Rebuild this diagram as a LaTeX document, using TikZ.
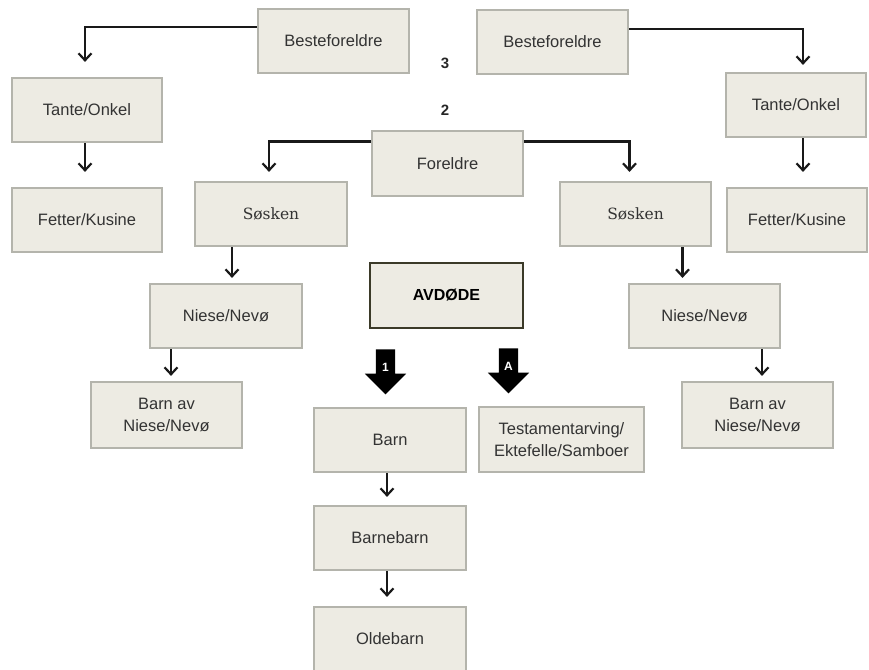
\documentclass[tikz,border=0pt]{standalone}
\usepackage{fontspec}
\setmainfont{Liberation Sans}
\newfontfamily\slabfont{DejaVu Serif}
\usetikzlibrary{arrows.meta,shapes.arrows,calc}
\definecolor{boxfill}{HTML}{EDEBE3}
\definecolor{boxline}{HTML}{B4B4AC}
\definecolor{mainline}{HTML}{3B3A28}
\definecolor{txt}{HTML}{333333}
\tikzset{
  famboxstyle/.style={draw=boxline, fill=boxfill, line width=2.2pt, minimum width=151pt, minimum height=64pt, text=txt, align=center, font=\fontsize{16.5}{22}\selectfont, inner sep=2pt},
  mainbox/.style={famboxstyle, draw=mainline, line width=2.8pt, text=black, font=\fontsize{16}{20}\selectfont\bfseries},
  conn/.style={draw=black!90, line width=2.2pt, -{Straight Barb[length=7pt,width=13pt,line width=2.2pt]}},
  bigarrow/.style={single arrow, fill=black, draw=none, rotate=-90, minimum height=45pt, inner sep=9.5pt, single arrow head extend=11pt},
  arrowlbl/.style={text=white, font=\fontsize{12}{12}\selectfont\bfseries, inner sep=0pt},
  numlbl/.style={text=black!85, font=\fontsize{15}{16}\selectfont\bfseries, inner sep=0pt}
}
\begin{document}
\begin{tikzpicture}[x=1pt,y=-1pt]
\useasboundingbox (0,0) rectangle (869,669);
\node[famboxstyle] (bfl) at (333.5,41) {Besteforeldre};
\node[famboxstyle] (bfr) at (552.5,42) {Besteforeldre};
\node[famboxstyle, minimum width=150pt] (tol) at (87,110) {Tante/Onkel};
\node[famboxstyle, minimum width=140pt] (tor) at (796,105) {Tante/Onkel};
\node[famboxstyle, minimum width=150pt] (fkl) at (87,220) {Fetter/Kusine};
\node[famboxstyle, minimum width=140pt] (fkr) at (797,220) {Fetter/Kusine};
\node[famboxstyle, minimum height=65pt] (for) at (447.5,163.5) {Foreldre};
\node[famboxstyle, minimum width=152pt, font=\fontsize{15.5}{18}\slabfont] (sol) at (271,214) {Søsken};
\node[famboxstyle, font=\fontsize{15.5}{18}\slabfont] (sor) at (635.5,214) {Søsken};
\node[famboxstyle, minimum width=152pt] (nnl) at (226,316) {Niese/Nevø};
\node[famboxstyle] (nnr) at (704.5,316) {Niese/Nevø};
\node[famboxstyle, minimum height=66pt] (bal) at (166.5,415) {Barn av\\Niese/Nevø};
\node[famboxstyle, minimum height=66pt] (bar) at (757.5,415) {Barn av\\Niese/Nevø};
\node[mainbox, minimum width=153pt, minimum height=65pt] (avd) at (446.5,295.5) {AVDØDE};
\node[famboxstyle, minimum width=152pt] (barn) at (390,440) {Barn};
\node[famboxstyle, minimum width=165pt, minimum height=65pt] (test) at (561.5,439.5) {Testamentarving/\\Ektefelle/Samboer};
\node[famboxstyle, minimum width=152pt] (bb) at (390,538) {Barnebarn};
\node[famboxstyle, minimum width=152pt] (ob) at (390,639) {Oldebarn};
\node[numlbl] (n3) at (445,63) {3};
\node[numlbl] (n2) at (445,110) {2};
\node[bigarrow] (ar1) at (385.5,367) {};
\node[arrowlbl] (l1) at (385.5,367) {1};
\node[bigarrow] (ara) at (508.5,366) {};
\node[arrowlbl] (la) at (508.5,366) {A};
\draw[conn] ([yshift=14pt]bfl.west) -| ([xshift=-2pt,yshift=15pt]tol.north);
\draw[conn] ([yshift=13pt]bfr.east) -| ([xshift=7pt,yshift=7pt]tor.north);
\draw[conn] ([xshift=-2pt]tol.south) -- ([xshift=-2pt,yshift=15pt]fkl.north);
\draw[conn] ([xshift=7pt]tor.south) -- ([xshift=6pt,yshift=15pt]fkr.north);
\draw[conn] ([yshift=22pt]for.west) -| ([xshift=-2pt,yshift=9pt]sol.north);
\draw[conn] ([yshift=22pt]for.east) -| ([xshift=-6pt,yshift=9pt]sor.north);
\draw[conn] ([xshift=6pt]nnl.north |- sol.south) -- ([xshift=6pt,yshift=5pt]nnl.north);
\draw[conn] ([xshift=-22pt]nnr.north |- sor.south) -- ([xshift=-22pt,yshift=5pt]nnr.north);
\draw[conn] ([xshift=4.5pt]bal.north |- nnl.south) -- ([xshift=4.5pt,yshift=5pt]bal.north);
\draw[conn] ([xshift=4.5pt]bar.north |- nnr.south) -- ([xshift=4.5pt,yshift=5pt]bar.north);
\draw[conn] ([xshift=-3pt]barn.south) -- ([xshift=-3pt,yshift=8pt]bb.north);
\draw[conn] ([xshift=-3pt]bb.south) -- ([xshift=-3pt,yshift=9pt]ob.north);
\end{tikzpicture}
\end{document}
